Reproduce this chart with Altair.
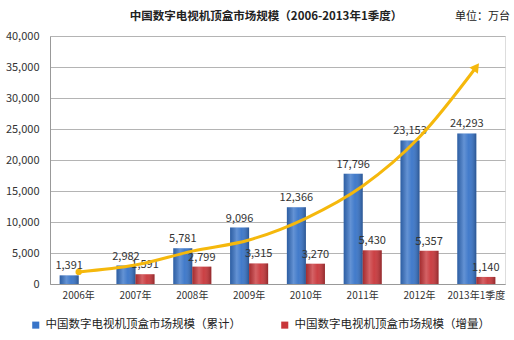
import altair as alt
import pandas as pd

years = ["2006年", "2007年", "2008年", "2009年", "2010年", "2011年", "2012年", "2013年1季度"]
cumulative = [1391, 2982, 5781, 9096, 12366, 17796, 23153, 24293]
increment = [None, 1591, 2799, 3315, 3270, 5430, 5357, 1140]
trend = [1950, 3050, 5300, 7100, 10600, 15800, 23700, 35000]

s_cum = "中国数字电视机顶盒市场规模（累计）"
s_inc = "中国数字电视机顶盒市场规模（增量）"
series = [s_cum, s_inc]
colors = ["#3874C8", "#C8363A"]

rows = []
for y, c, i in zip(years, cumulative, increment):
    rows.append({"year": y, "series": s_cum, "value": c})
    if i is not None:
        rows.append({"year": y, "series": s_inc, "value": i})
bars_df = pd.DataFrame(rows)
trend_df = pd.DataFrame({"year": years, "value": trend})
tip_df = trend_df.tail(1)
start_df = trend_df.head(1)

FONT = "Noto Sans CJK SC"

x_enc = alt.X("year:N", sort=years,
              scale=alt.Scale(paddingInner=0.33, paddingOuter=0.17),
              axis=alt.Axis(title=None, labelAngle=0, labelFontSize=10, labelColor="#333",
                            ticks=False, domainColor="#999", labelPadding=6, labelFont=FONT))
y_axis = alt.Axis(title=None, values=list(range(0, 40001, 5000)), format=",.0f",
                  labelFontSize=11, labelColor="#333", ticks=False,
                  domainColor="#999", gridColor="#B4B4B4", labelPadding=11,
                  labelFont=FONT)
y_enc = alt.Y("value:Q", scale=alt.Scale(domain=[0, 40000]), axis=y_axis, title=None)
xoff = alt.XOffset("series:N", sort=series, scale=alt.Scale(domain=series, paddingInner=0))

bars = alt.Chart(bars_df).mark_bar().encode(
    x=x_enc, y=y_enc, xOffset=xoff,
    color=alt.Color("series:N", sort=series,
                    scale=alt.Scale(domain=series, range=colors),
                    legend=alt.Legend(title=None, orient="none", legendX=-20, legendY=283,
                                      direction="horizontal", columnPadding=38,
                                      symbolType="square", symbolSize=50,
                                      symbolStrokeWidth=0,
                                      labelFontSize=11.5, labelFont=FONT,
                                      labelColor="#222", labelLimit=300))
)

shade = alt.Chart(bars_df).mark_bar(
    fill=alt.Gradient(gradient="linear", x1=0, x2=1, y1=0, y2=0,
                      stops=[alt.GradientStop(color="rgba(0,0,0,0.18)", offset=0),
                             alt.GradientStop(color="rgba(255,255,255,0.22)", offset=0.35),
                             alt.GradientStop(color="rgba(255,255,255,0.05)", offset=0.6),
                             alt.GradientStop(color="rgba(0,0,0,0.28)", offset=1)])
).encode(x=alt.X("year:N", sort=years), y=y_enc, xOffset=xoff)

labels = alt.Chart(bars_df).mark_text(baseline="bottom", dy=-4, fontSize=11, color="#333",
                                      font=FONT).encode(
    x=alt.X("year:N", sort=years), y=y_enc, xOffset=xoff,
    text=alt.Text("value:Q", format=",.0f")
)

line = alt.Chart(trend_df).mark_line(color="#F5B80C", strokeWidth=3,
                                     interpolate="monotone").encode(
    x=alt.X("year:N", sort=years), y=y_enc
)
start = alt.Chart(start_df).mark_point(shape="circle", filled=True, size=40, color="#F5B80C",
                                       opacity=1).encode(
    x=alt.X("year:N", sort=years), y=y_enc
)
tip = alt.Chart(tip_df).mark_point(shape="triangle-up", filled=True, size=110, angle=36,
                                   color="#F5B80C", opacity=1).encode(
    x=alt.X("year:N", sort=years), y=y_enc
)

title_text = alt.Chart(pd.DataFrame({"t": ["中国数字电视机顶盒市场规模（2006-2013年1季度）"]})).mark_text(
    fontSize=11.5, font=FONT, fontWeight="bold", color="#222", align="center", baseline="middle"
).encode(x=alt.value(216), y=alt.value(-19), text="t:N")

unit = alt.Chart(pd.DataFrame({"t": ["单位：万台"]})).mark_text(
    fontSize=11, font=FONT, color="#222", align="right", baseline="middle"
).encode(x=alt.value(460), y=alt.value(-19), text="t:N")

chart = alt.layer(bars, shade, labels, line, start, tip, title_text, unit).properties(
    width=455, height=248,
    autosize=alt.AutoSizeParams(type="none"),
    padding={"left": 50, "top": 36, "right": 9, "bottom": 56},
).configure_view(stroke=None).configure(background="white")

chart.save("out.html", embed_options={"renderer": "svg", "actions": False})
